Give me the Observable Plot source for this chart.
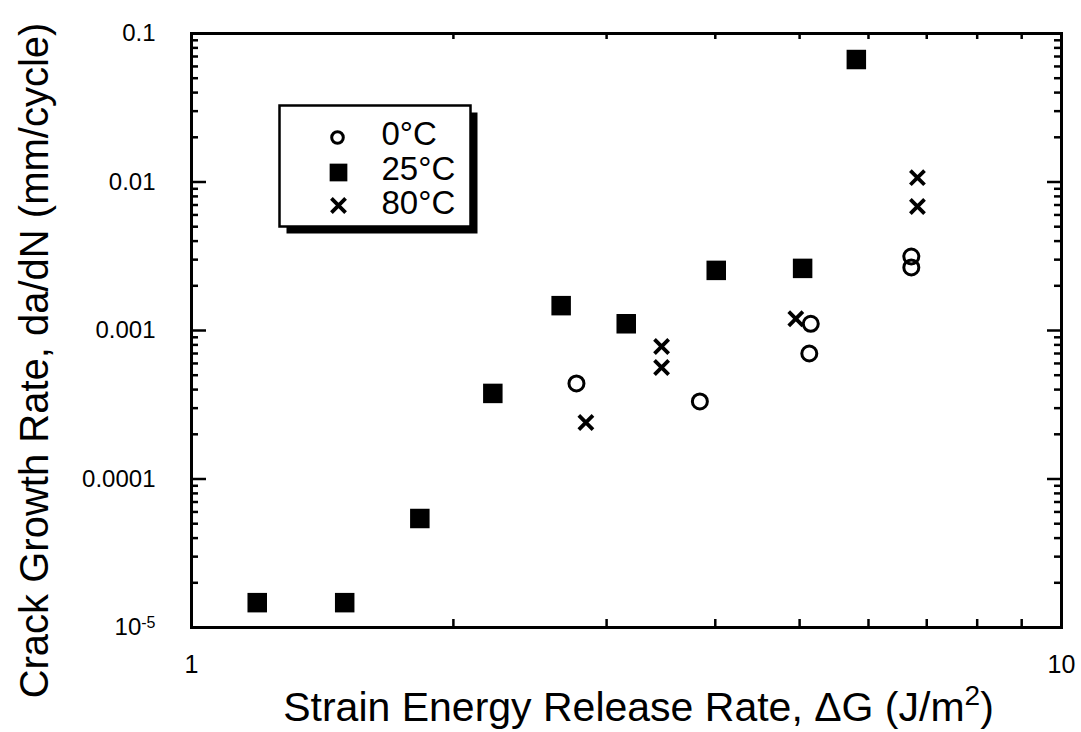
<!DOCTYPE html>
<html><head><meta charset="utf-8">
<script src="https://cdn.jsdelivr.net/npm/d3@7"></script>
<script src="https://cdn.jsdelivr.net/npm/@observablehq/plot@0.6"></script>
<style>body{margin:0;background:#fff} svg{display:block}</style>
</head><body><div id="chart"></div>
<script>
// ---- data ----
const seriesNames = ["0°C", "25°C", "80°C"];
const g0  = [2.77, 3.84, 5.15, 5.13, 6.72, 6.72];
const r0  = [4.4e-4, 3.33e-4, 1.11e-3, 7.0e-4, 3.15e-3, 2.66e-3];
const g25 = [1.19, 1.50, 1.83, 2.22, 2.66, 3.16, 4.01, 5.04, 5.81];
const r25 = [1.47e-5, 1.47e-5, 5.42e-5, 3.77e-4, 1.47e-3, 1.11e-3, 2.54e-3, 2.62e-3, 0.0668];
const g80 = [2.84, 3.47, 3.47, 4.95, 6.83, 6.83];
const r80 = [2.40e-4, 7.8e-4, 5.63e-4, 1.20e-3, 0.0107, 6.84e-3];
const xTicks = [1, 10];
const xTickLabels = ["1", "10"];
const yTicks = [1e-5, 1e-4, 1e-3, 1e-2, 1e-1];
const yTickLabels = ["10⁻⁵", "0.0001", "0.001", "0.01", "0.1"];
const xTitle = "Strain Energy Release Rate, ΔG (J/m²)";
const yTitle = "Crack Growth Rate, da/dN (mm/cycle)";

// ---- derived tables ----
const rows = (g, r) => g.map((v, i) => ({g: v, r: r[i]}));
const d0 = rows(g0, r0), d25 = rows(g25, r25), d80 = rows(g80, r80);
const xMinor = [2, 3, 4, 5, 6, 7, 8, 9];
const yMinor = [];
for (const dec of [1e-5, 1e-4, 1e-3, 1e-2]) for (const m of [2,3,4,5,6,7,8,9]) yMinor.push(dec * m);

// ---- layout ----
const W = 1081, H = 732, ML = 191, MR = 20, MT = 33, MB = 105;
const FW = W - ML - MR, FH = H - MT - MB;
const font = "'Liberation Sans', Arial, Helvetica, sans-serif";
const legendSymbolDy = [104, 139, 172];
const legendTextDy = [101, 136, 170];

const chart = Plot.plot({
  width: W, height: H,
  marginLeft: ML, marginRight: MR, marginTop: MT, marginBottom: MB,
  style: {fontFamily: font, background: "#fff", color: "#000"},
  x: {type: "log", domain: [1, 10]},
  y: {type: "log", domain: [1e-5, 0.1]},
  marks: [
    // tick labels
    Plot.axisX({ticks: xTicks, tickSize: 0, tickPadding: 28, fontSize: 25, label: null,
      tickFormat: d => xTickLabels[xTicks.indexOf(d)]}),
    Plot.axisY({ticks: yTicks, tickSize: 0, tickPadding: 36, fontSize: 24, label: null,
      tickFormat: d => yTickLabels[yTicks.indexOf(d)]}),
    // inward ticks
    Plot.tickX(xMinor, {x: d => d, insetTop: FH - 8, strokeWidth: 2.5}),
    Plot.tickX(xMinor, {x: d => d, insetBottom: FH - 6, strokeWidth: 2.5}),
    Plot.tickY(yTicks, {y: d => d, insetRight: FW - 15, strokeWidth: 2.5}),
    Plot.tickY(yMinor, {y: d => d, insetRight: FW - 7, strokeWidth: 2.5}),
    Plot.tickY(yTicks, {y: d => d, insetLeft: FW - 14, strokeWidth: 2.5}),
    Plot.tickY(yMinor, {y: d => d, insetLeft: FW - 7, strokeWidth: 2.5}),
    Plot.frame({stroke: "#000", strokeWidth: 3}),
    // data
    Plot.dot(d0, {x: "g", y: "r", symbol: "circle", r: 7.5, fill: "none", stroke: "#000", strokeWidth: 3}),
    Plot.dot(d25, {x: "g", y: "r", symbol: "square", r: 11, fill: "#000", stroke: "none"}),
    Plot.dot(d80, {x: "g", y: "r", symbol: "times", r: 6.5, stroke: "#000", strokeWidth: 3.8}),
    // legend box with shadow
    Plot.frame({insetLeft: 95, insetTop: 79, insetRight: 584, insetBottom: 394, fill: "#000", stroke: "none"}),
    Plot.frame({insetLeft: 88, insetTop: 72, insetRight: 591, insetBottom: 401, fill: "#fff", stroke: "#000", strokeWidth: 2.5}),
    Plot.dot([seriesNames[0]], {frameAnchor: "top-left", dx: 146, dy: legendSymbolDy[0], symbol: "circle", r: 5.8, fill: "none", stroke: "#000", strokeWidth: 3}),
    Plot.dot([seriesNames[1]], {frameAnchor: "top-left", dx: 147, dy: legendSymbolDy[1], symbol: "square", r: 10, fill: "#000", stroke: "none"}),
    Plot.dot([seriesNames[2]], {frameAnchor: "top-left", dx: 147, dy: legendSymbolDy[2], symbol: "times", r: 6.5, stroke: "#000", strokeWidth: 3.8}),
    ...seriesNames.map((s, i) => Plot.text([s], {frameAnchor: "top-left", text: d => d, dx: 190,
      dy: legendTextDy[i], fontSize: 33, textAnchor: "start", lineAnchor: "middle"})),
    // axis titles
    Plot.text([xTitle], {frameAnchor: "bottom", text: d => d, dy: 80, dx: 12, fontSize: 41, textAnchor: "middle", lineAnchor: "middle"}),
    Plot.text([yTitle], {frameAnchor: "left", text: d => d, rotate: -90, dx: -156, dy: 30, fontSize: 40, textAnchor: "middle", lineAnchor: "middle"})
  ]
});

// typeset superscripts as real raised text (10^-5 and m^2)
d3.select(chart).selectAll("text").each(function() {
  const t = d3.select(this);
  const s = this.textContent;
  if (s === "10⁻⁵") {
    t.text("10");
    t.append("tspan").attr("font-size", 16).attr("dy", "-0.45em").text("-5");
  } else if (s === xTitle) {
    t.text(xTitle.replace("²)", ""));
    t.append("tspan").attr("font-size", 28).attr("dy", "-0.55em").text("2");
    t.append("tspan").attr("dy", "0.39em").text(")");
  }
});
document.getElementById("chart").appendChild(chart);
</script>
</body></html>
